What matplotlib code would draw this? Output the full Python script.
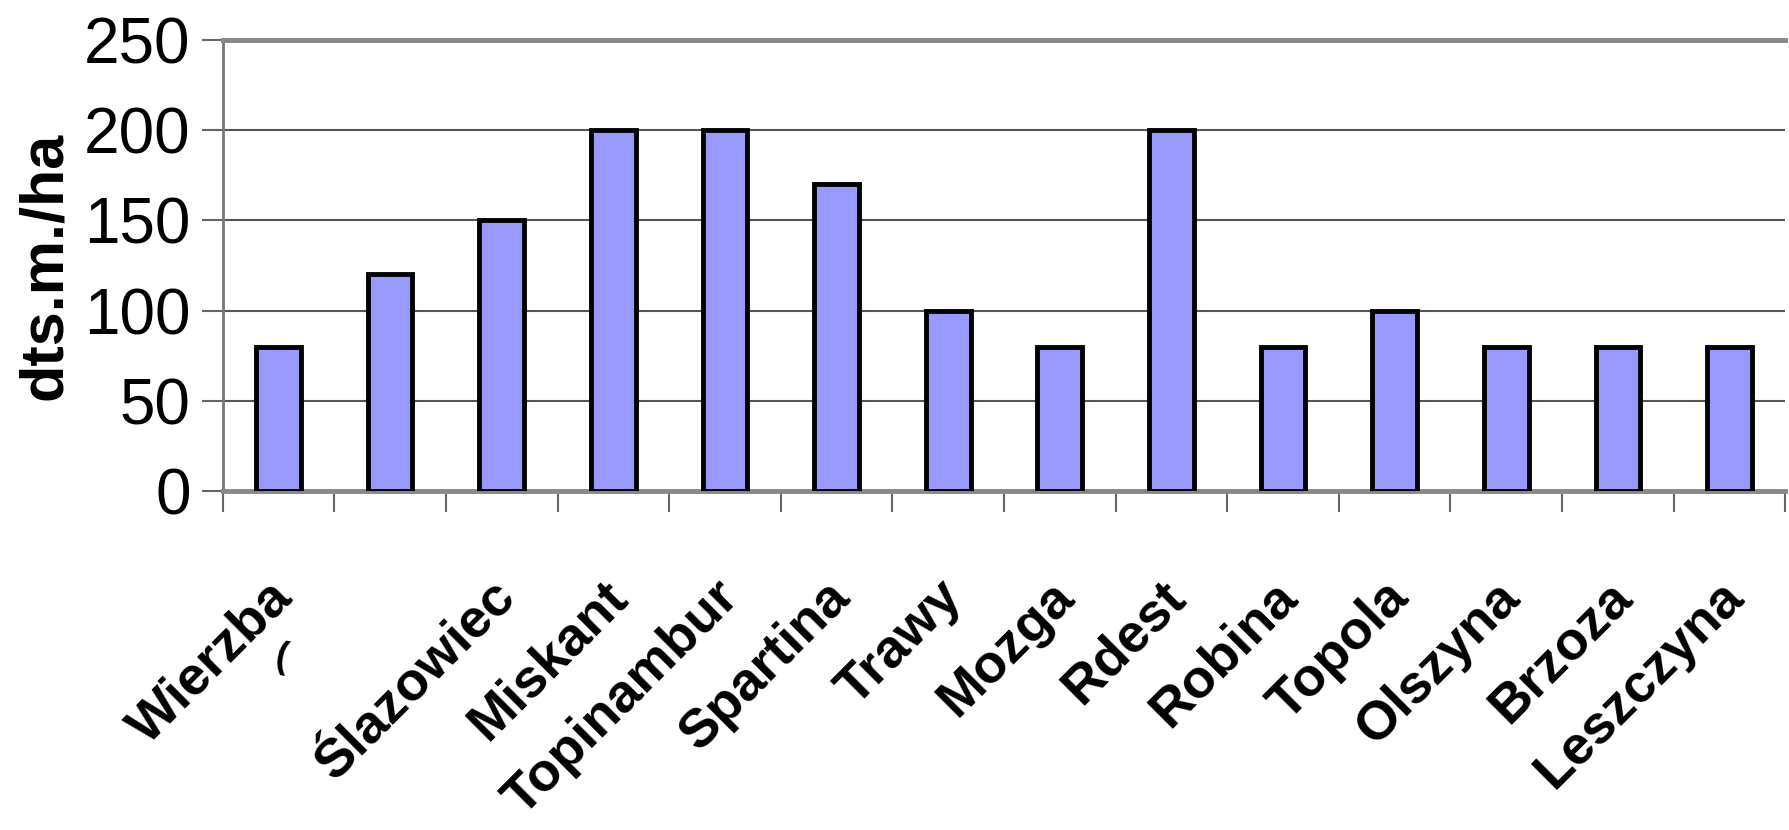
import matplotlib
matplotlib.use("Agg")
import matplotlib.pyplot as plt
from matplotlib import transforms
import numpy as np

categories = ["Wierzba", "", "Ślazowiec", "Miskant", "Topinambur", "Spartina", "Trawy",
              "Mozga", "Rdest", "Robina", "Topola", "Olszyna", "Brzoza", "Leszczyna"]
values = [80, 120, 150, 200, 200, 170, 100, 80, 200, 80, 100, 80, 80, 80]
yticks = [0, 50, 100, 150, 200, 250]
ylabel = "dts.m./ha"

narrow = ["Liberation Sans Narrow", "Liberation Sans", "DejaVu Sans"]
bold = ["Liberation Sans", "DejaVu Sans"]

fig = plt.figure(figsize=(17.9, 8.3), dpi=100)
ax = fig.add_axes([0.1244, 0.4085, 0.873, 0.5435])

n = len(values)
x = np.arange(n)
ax.bar(x, values, width=0.4, color="#9999FF", edgecolor="black", linewidth=3.5, zorder=3)

ax.set_xlim(-0.5, n - 0.5)
ax.set_ylim(0, 250)
ax.set_yticks(yticks)
ax.set_yticklabels([str(v) for v in yticks], fontsize=46, family=narrow)
ax.yaxis.grid(True, color="#555555", linewidth=1.5, zorder=0)
ax.set_axisbelow(True)

ax.set_xticks(x)
ax.set_xticklabels(categories, rotation=45, ha="right", rotation_mode="anchor",
                   fontsize=39, fontweight="bold", family=bold)
ax.tick_params(axis="x", which="major", length=0, pad=58)
offset = transforms.ScaledTranslation(-12 / 100, 0, fig.dpi_scale_trans)
for lab in ax.get_xticklabels():
    lab.set_transform(lab.get_transform() + offset)
ax.set_xticks(np.arange(-0.5, n, 1.0), minor=True)
ax.tick_params(axis="x", which="minor", length=15, width=1.5, color="#666666")
ax.tick_params(axis="y", length=15, width=1.5, color="#666666", pad=8)

# stray glyph fragment under the first label, as in the reference
ax.text(0.02, -0.37, "(", transform=ax.get_xaxis_transform(), fontsize=26,
        fontweight="bold", family=bold, ha="center", va="center", rotation=-10)

ax.spines["right"].set_visible(False)
ax.spines["top"].set_color("#888888")
ax.spines["top"].set_linewidth(3.5)
ax.spines["left"].set_color("#777777")
ax.spines["left"].set_linewidth(2)
ax.spines["bottom"].set_color("#888888")
ax.spines["bottom"].set_linewidth(3.5)

ax.set_ylabel(ylabel, fontsize=44, fontweight="bold", family=bold)
ax.yaxis.set_label_coords(-0.1315, 0.5)
ax.yaxis.label.set_verticalalignment("top")

fig.savefig("out.png", dpi=100)
